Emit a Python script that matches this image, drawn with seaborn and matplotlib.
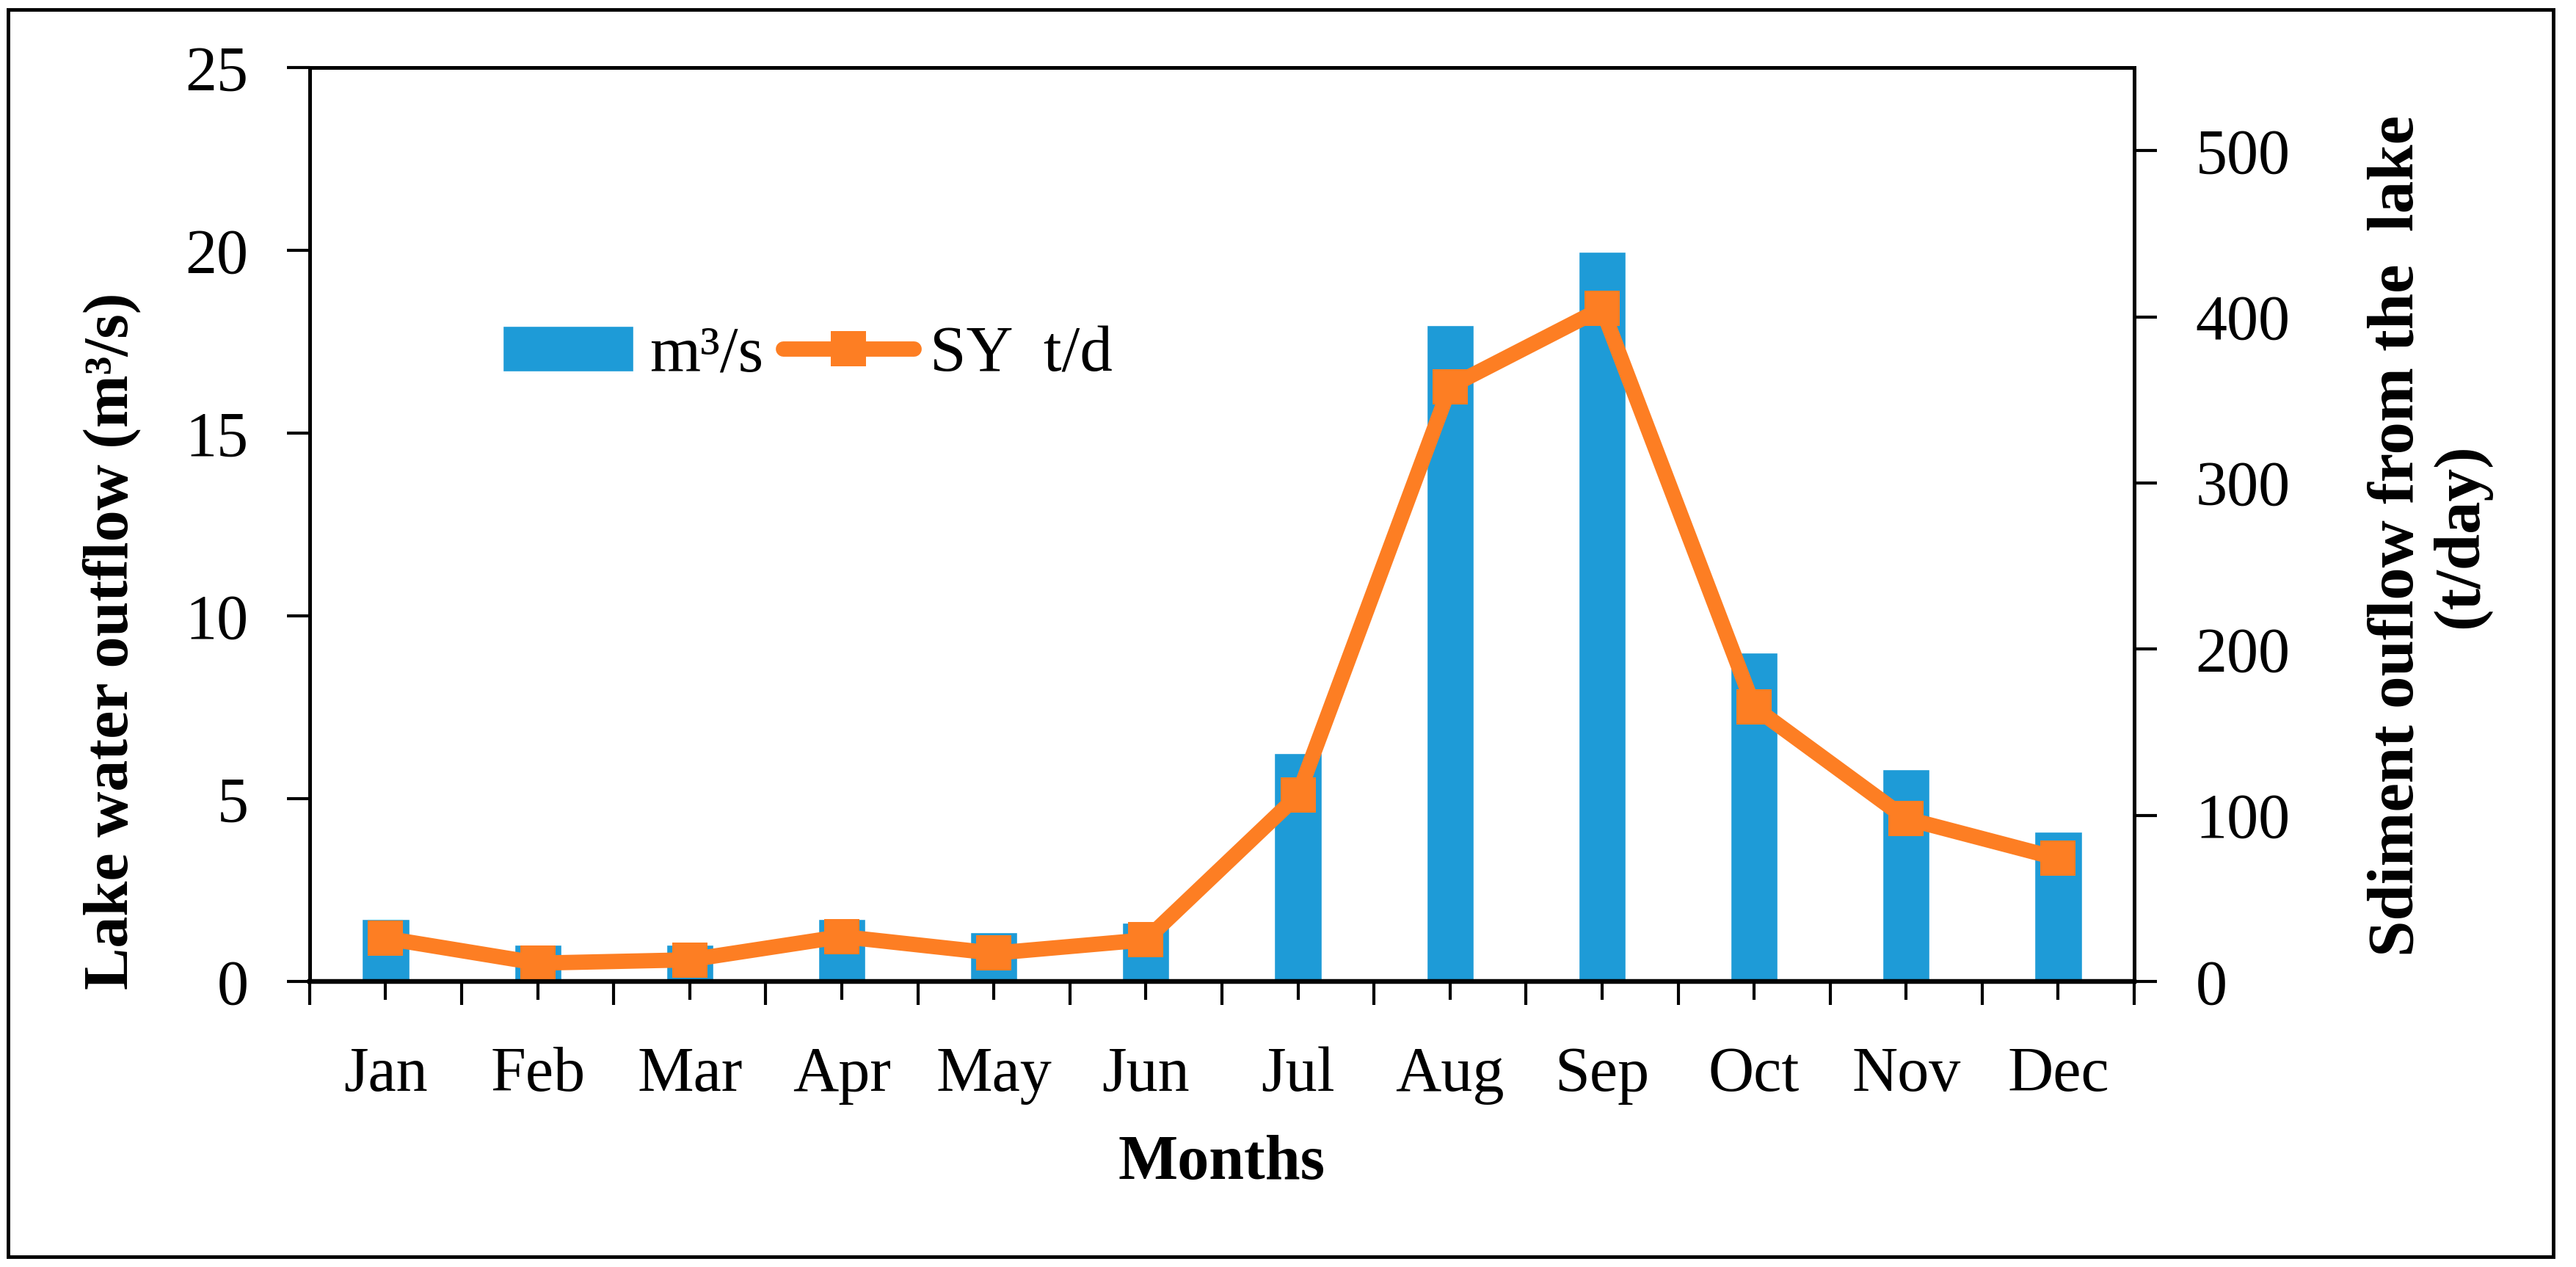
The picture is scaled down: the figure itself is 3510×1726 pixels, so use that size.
import numpy as np
import pandas as pd
import seaborn as sns
import matplotlib.pyplot as plt
from matplotlib.patches import Rectangle
from matplotlib.ticker import FixedLocator

months = ["Jan", "Feb", "Mar", "Apr", "May", "Jun",
          "Jul", "Aug", "Sep", "Oct", "Nov", "Dec"]
outflow = [1.7, 1.0, 1.0, 1.7, 1.35, 1.6, 6.25, 17.95, 19.95, 9.0, 5.8, 4.1]
sediment = [26, 11, 13, 27, 17, 25, 112, 358, 405, 165, 98, 74]

BLUE = "#1E9BD7"
ORANGE = "#FD7E23"


def main():
    sns.set_style("ticks")
    plt.rcParams["font.family"] = ["Liberation Serif", "DejaVu Serif"]
    for key in ("text.color", "axes.edgecolor", "axes.labelcolor",
                "xtick.color", "ytick.color"):
        plt.rcParams[key] = "black"

    df = pd.DataFrame({"month": months, "outflow": outflow,
                       "sediment": sediment, "pos": np.arange(len(months))})

    fig = plt.figure(figsize=(35.10, 17.26), dpi=100)
    ax = fig.add_axes([0.1202, 0.2254, 0.7083, 0.7213])

    sns.barplot(data=df, x="month", y="outflow", color=BLUE, width=0.31,
                saturation=1, ax=ax, label="m³/s")
    if ax.get_legend() is not None:
        ax.get_legend().remove()
    ax.set_xlim(-0.5, 11.5)
    ax.set_ylim(0, 25)
    ax.set_yticks(range(0, 26, 5))

    ax2 = ax.twinx()
    sns.lineplot(data=df, x="pos", y="sediment", color=ORANGE, lw=15,
                 marker="s", markersize=35, markeredgewidth=0, sort=False,
                 ax=ax2, label="SY  t/d", legend=False)
    ax2.set_ylim(0, 550)
    ax2.set_yticks(range(0, 501, 100))
    ax2.set_xlim(-0.5, 11.5)

    fs = 62
    ax.set_xticks(range(12))
    ax.set_xticklabels(months)
    ax.xaxis.set_minor_locator(FixedLocator(np.arange(-0.5, 12, 1)))
    ax.tick_params(axis="x", which="major", length=18, width=3, labelsize=fs, pad=46)
    ax.tick_params(axis="x", which="minor", length=23, width=3)
    ax.tick_params(axis="y", length=22, width=3, labelsize=fs, pad=38)
    ax2.tick_params(axis="y", length=22, width=3, labelsize=fs, pad=38)

    for a in (ax, ax2):
        for side in ("left", "right", "top"):
            a.spines[side].set_linewidth(3.5)
            a.spines[side].set_visible(True)
        a.spines["bottom"].set_linewidth(4.5)

    ax.set_xlabel("Months", fontsize=fs, fontweight="bold", labelpad=29)
    ax.set_ylabel("")
    ax2.set_ylabel("")

    fig.text(0.0436, 0.494, "Lake water outflow (m³/s)", rotation=90,
             ha="center", va="center", fontsize=fs, fontweight="bold")
    fig.text(0.943, 0.577, "Sdiment ouflow from the  lake\n(t/day)", rotation=90,
             ha="center", va="center", fontsize=fs + 2, fontweight="bold",
             multialignment="center", linespacing=1.1)

    h1, l1 = ax.get_legend_handles_labels()
    h2, l2 = ax2.get_legend_handles_labels()
    ax2.legend(h1 + h2, l1 + l2, ncol=2, frameon=False, fontsize=fs + 2,
               loc="center left", bbox_to_anchor=(0.185, 0.7195),
               bbox_transform=fig.transFigure, handlelength=2.0,
               handletextpad=0.25, columnspacing=0.3, borderaxespad=0)

    fig.patches.append(Rectangle((0.0031, 0.0081), 0.9881, 0.9844,
                                 transform=fig.transFigure, fill=False,
                                 edgecolor="black", lw=3.5))

    plt.savefig("out.png", dpi=100)


if __name__ == "__main__":
    main()
